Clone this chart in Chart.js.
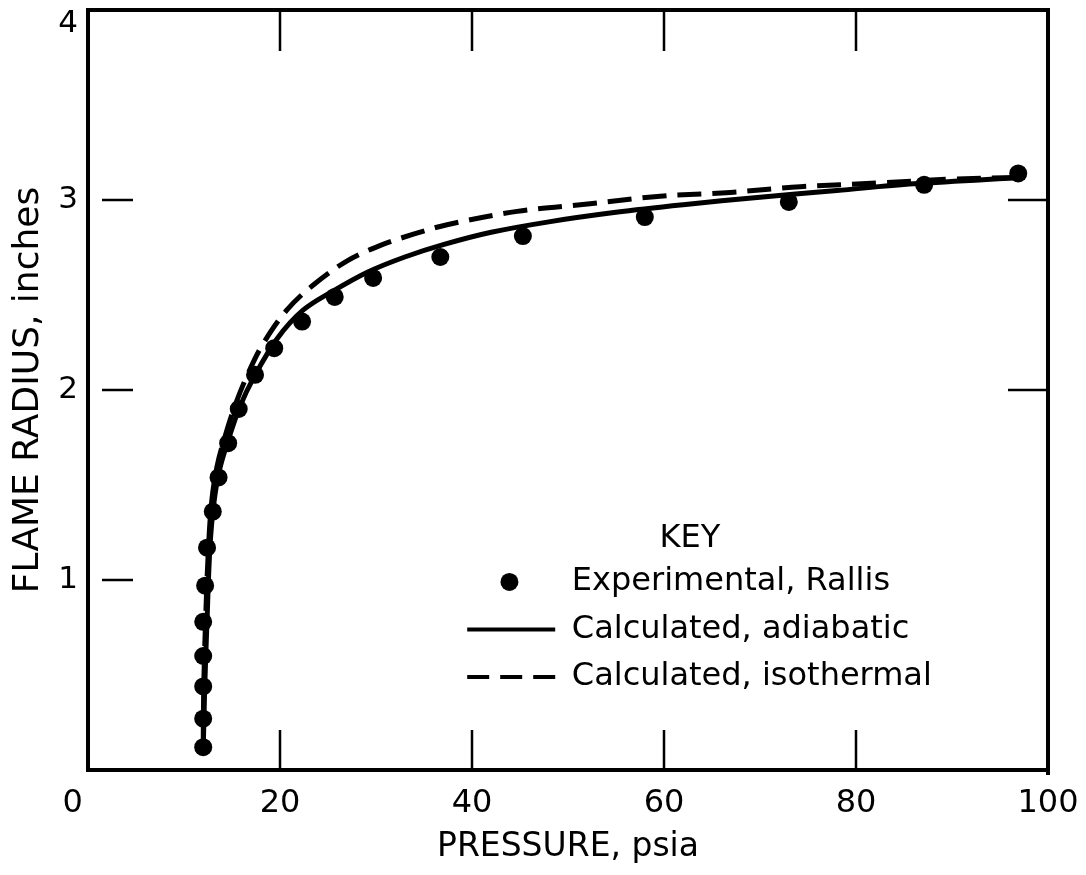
<!DOCTYPE html>
<html>
<head>
<meta charset="utf-8">
<script src="https://cdn.jsdelivr.net/npm/chart.js@4/dist/chart.umd.min.js"></script>
<style>
  body { margin: 0; background: #fff; }
  #wrap { width: 1086px; height: 875px; }
</style>
</head>
<body>
<div id="wrap"><canvas id="myChart" width="1086" height="875"></canvas></div>
<script>
// experimental points (Rallis)
var expX = [12.0, 12.0, 12.0, 12.0, 12.0, 12.2, 12.4, 13.0, 13.6, 14.6, 15.7, 17.4, 19.4, 22.3, 25.7, 29.7, 36.7, 45.3, 58.0, 73.0, 87.1, 96.9];
var expY = [0.12, 0.27, 0.44, 0.60, 0.78, 0.97, 1.17, 1.36, 1.54, 1.72, 1.90, 2.08, 2.22, 2.36, 2.49, 2.59, 2.70, 2.81, 2.91, 2.99, 3.08, 3.14];

// calculated, adiabatic (solid)
var adiX = [12.0, 12.15, 12.4, 12.7, 13.1, 13.7, 14.7, 15.8, 17.2, 19.7, 22.4, 25.5, 29.1, 33.0, 37.0, 42.0, 48.0, 55.0, 62.0, 70.0, 78.0, 86.0, 97.6];
var adiY = [0.10, 0.42, 0.79, 1.17, 1.40, 1.58, 1.75, 1.91, 2.06, 2.27, 2.42, 2.52, 2.62, 2.70, 2.765, 2.83, 2.885, 2.935, 2.975, 3.015, 3.05, 3.085, 3.12];

// calculated, isothermal (dashed)
var isoX = [12.0, 12.05, 12.25, 12.55, 12.9, 13.45, 14.3, 15.4, 16.7, 18.2, 20.7, 23.4, 27.0, 30.4, 33.9, 37.4, 44.7, 52.3, 59.6, 66.9, 74.2, 82.5, 90.0, 97.6];
var isoY = [0.10, 0.42, 0.79, 1.17, 1.42, 1.60, 1.76, 1.93, 2.09, 2.24, 2.42, 2.55, 2.68, 2.76, 2.82, 2.87, 2.94, 2.98, 3.02, 3.04, 3.07, 3.09, 3.11, 3.12];

var xTickLabels = ['0   ', '20', '40', '60', '80', '100'];
var yTickLabels = ['', '1', '2', '3', ['', '4']];
var xMarks = [20, 40, 60, 80];   // inside tick marks top/bottom
var yMarksLeft = [1, 2, 3];
var yMarksRight = [2, 3];

var legendTitle = 'KEY';
var legendLabels = ['Experimental, Rallis', 'Calculated, adiabatic', 'Calculated, isothermal'];

function pts(xs, ys) {
  return xs.map(function (x, i) { return { x: x, y: ys[i] }; });
}

var FONT = "'DejaVu Sans', 'Liberation Sans', sans-serif";
Chart.defaults.font.family = FONT;
Chart.defaults.color = '#000';

var frame = {
  id: 'frame',
  afterDraw: function (chart) {
    var ctx = chart.ctx;
    var a = chart.chartArea;
    var xs = chart.scales.x, ys = chart.scales.y;
    ctx.save();
    ctx.strokeStyle = '#000';
    ctx.lineCap = 'butt';
    // top + right border
    ctx.lineWidth = 4;
    ctx.beginPath();
    ctx.moveTo(a.left - 2, a.top);
    ctx.lineTo(a.right, a.top);
    ctx.moveTo(a.right, a.top - 2);
    ctx.lineTo(a.right, a.bottom + 5);
    ctx.stroke();
    // inside tick marks
    ctx.lineWidth = 2.5;
    ctx.beginPath();
    xMarks.forEach(function (v) {
      var px = xs.getPixelForValue(v);
      ctx.moveTo(px, a.top); ctx.lineTo(px, a.top + 41);
      ctx.moveTo(px, a.bottom); ctx.lineTo(px, a.bottom - 40);
    });
    yMarksLeft.forEach(function (v) {
      var py = ys.getPixelForValue(v);
      ctx.moveTo(a.left + 14, py); ctx.lineTo(a.left + 45, py);
    });
    yMarksRight.forEach(function (v) {
      var py = ys.getPixelForValue(v);
      ctx.moveTo(a.right - 40, py); ctx.lineTo(a.right, py);
    });
    ctx.stroke();

    // key
    var lx = xs.getPixelForValue(39.5), tx = xs.getPixelForValue(50.4);
    var ky = ys.getPixelForValue(1.22);
    var rows = [ys.getPixelForValue(0.99), ys.getPixelForValue(0.74), ys.getPixelForValue(0.49)];
    ctx.font = '32px ' + FONT;
    ctx.fillStyle = '#000';
    ctx.textBaseline = 'middle';
    ctx.textAlign = 'center';
    ctx.fillText(legendTitle, xs.getPixelForValue(62.7), ky);
    ctx.textAlign = 'left';
    legendLabels.forEach(function (t, i) { ctx.fillText(t, tx, rows[i]); });
    ctx.beginPath();
    ctx.arc(xs.getPixelForValue(43.9), rows[0], 9, 0, Math.PI * 2);
    ctx.fill();
    ctx.lineWidth = 4;
    ctx.beginPath();
    ctx.moveTo(lx, rows[1]); ctx.lineTo(lx + 88, rows[1]);
    ctx.stroke();
    ctx.setLineDash([22, 11]);
    ctx.beginPath();
    ctx.moveTo(lx, rows[2]); ctx.lineTo(lx + 88, rows[2]);
    ctx.stroke();
    ctx.restore();
  }
};

var myChart = new Chart(document.getElementById('myChart'), {
  type: 'scatter',
  data: {
    datasets: [{
      label: legendLabels[2],
      data: pts(isoX, isoY),
      showLine: true,
      borderColor: '#000',
      borderWidth: 5,
      borderDash: [24, 11],
      tension: 0.35,
      pointRadius: 0,
      order: 3
    }, {
      label: legendLabels[1],
      data: pts(adiX, adiY),
      showLine: true,
      borderColor: '#000',
      borderWidth: 5,
      tension: 0.35,
      pointRadius: 0,
      order: 2
    }, {
      label: legendLabels[0],
      data: pts(expX, expY),
      pointRadius: 9,
      pointBackgroundColor: '#000',
      pointBorderWidth: 0,
      order: 1
    }]
  },
  options: {
    responsive: false,
    animation: false,
    devicePixelRatio: 1,
    layout: { padding: { top: 10, right: 38, left: 0, bottom: 0 } },
    plugins: { legend: { display: false }, tooltip: { enabled: false } },
    scales: {
      x: {
        type: 'linear',
        min: 0, max: 100,
        grid: { display: false, drawTicks: false },
        border: { display: true, color: '#000', width: 4 },
        ticks: {
          stepSize: 20,
          padding: 14,
          font: { size: 32 },
          callback: function (v) { return xTickLabels[v / 20]; }
        },
        title: {
          display: true,
          text: 'PRESSURE, psia',
          font: { size: 33 },
          padding: { top: 0, bottom: 8 }
        },
        afterFit: function (s) { s.height = 105; s.paddingLeft = 0; s.paddingRight = 0; }
      },
      y: {
        type: 'linear',
        min: 0, max: 4,
        grid: { display: false, drawTicks: false },
        border: { display: true, color: '#000', width: 4 },
        ticks: {
          stepSize: 1,
          padding: 10,
          font: { size: 31, lineHeight: 0.9 },
          callback: function (v) { return yTickLabels[v]; }
        },
        title: {
          display: true,
          text: 'FLAME RADIUS, inches',
          font: { size: 36 },
          padding: { top: 7, bottom: 0 }
        },
        afterFit: function (s) { s.width = 88; s.paddingTop = 0; s.paddingBottom = 0; }
      }
    }
  },
  plugins: [frame]
});
</script>
</body>
</html>
